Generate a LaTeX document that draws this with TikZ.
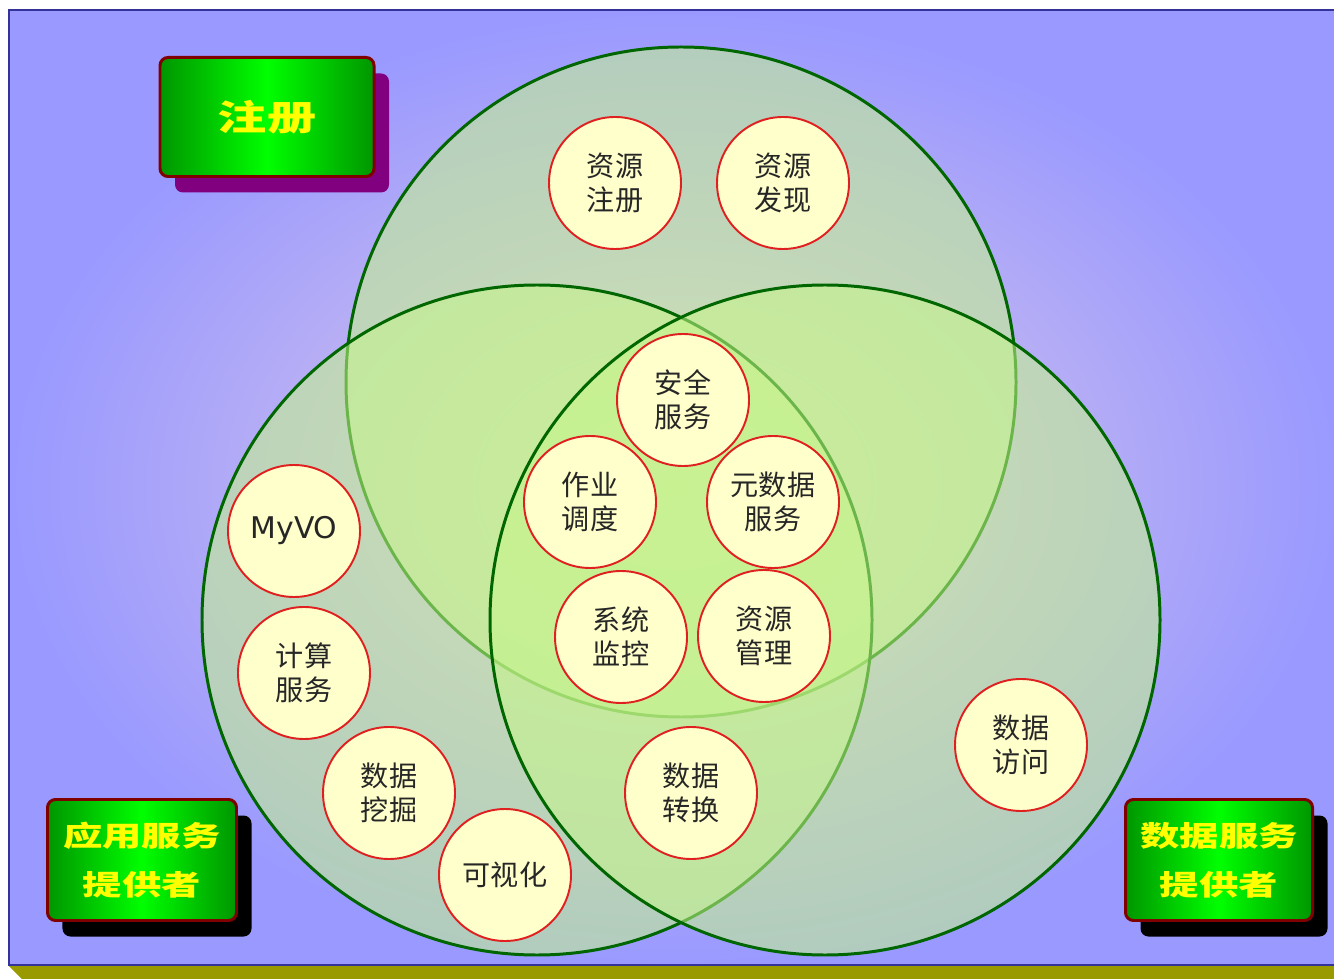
\documentclass[tikz,border=0pt]{standalone}
\usepackage{fontspec}
\usetikzlibrary{shadows}
\newfontfamily\cjk{Noto Sans CJK SC}
\newfontfamily\cjkbox{Noto Sans CJK SC}[FakeStretch=1.4]
\newfontfamily\latin{DejaVu Sans}
\definecolor{bgblue}{RGB}{153,153,255}
\definecolor{bgcenter}{RGB}{226,204,230}
\definecolor{bgline}{RGB}{51,51,153}
\definecolor{basebar}{RGB}{153,153,0}
\definecolor{setfill}{RGB}{198,246,138}
\definecolor{setline}{RGB}{0,102,0}
\definecolor{itemfill}{RGB}{255,255,204}
\definecolor{itemline}{RGB}{224,32,32}
\definecolor{boxline}{RGB}{128,0,0}
\definecolor{boxdark}{RGB}{0,150,0}
\definecolor{boxlight}{RGB}{0,255,0}
\definecolor{boxtext}{RGB}{255,255,0}
\definecolor{shadowpurple}{RGB}{128,0,128}
\tikzset{
	setcirc/.style={draw=setline, line width=1.7pt, fill=setfill, fill opacity=0.55},
	item/.style={circle, draw=itemline, line width=1.1pt, fill=itemfill,
		minimum size=26.4mm, inner sep=0pt, align=center, text=black!85,
		font=\cjk\fontsize{16}{19.5}\selectfont},
	rolebox/.style={rectangle, rounded corners=1.6mm, draw=boxline, line width=1.7pt,
		left color=boxdark, right color=boxdark, middle color=boxlight,
		align=center, text=boxtext, inner sep=0pt},
	roleshadow/.style={drop shadow={shadow xshift=3mm, shadow yshift=-3.2mm, fill=#1, opacity=1}}
}
\begin{document}
\begin{tikzpicture}[x=0.2mm, y=-0.2mm]
	\useasboundingbox (0,0) rectangle (1334,979);
	% background sheet
	\shade[inner color=bgcenter, outer color=bgblue] (9,10) rectangle (1340,965);
	\draw[bgline, line width=1pt] (1340,10)--(9,10)--(9,965)--(1340,965);
	\fill[basebar] (9,966)--(1340,966)--(1340,979)--(22,979)--cycle;

	% three sets
	\draw[setcirc] (681,382) circle [radius=335];
	\draw[setcirc] (537,620) circle [radius=335];
	\draw[setcirc] (825,620) circle [radius=335];

	% registry
	\node[item] (reg) at (615,183) {资源\\注册};
	\node[item] (disc) at (783,183) {资源\\发现};

	% shared core
	\node[item] (sec) at (683,400) {安全\\服务};
	\node[item] (job) at (590,502) {作业\\调度};
	\node[item] (meta) at (773,502) {元数据\\服务};
	\node[item] (mon) at (621,637) {系统\\监控};
	\node[item] (res) at (764,636) {资源\\管理};

	% application side
	\node[item, font=\latin\fontsize{17}{20}\selectfont] (myvo) at (294,531) {MyVO};
	\node[item] (comp) at (304,673) {计算\\服务};
	\node[item] (mine) at (389,793) {数据\\挖掘};
	\node[item] (vis) at (505,875) {可视化};
	\node[item] (conv) at (691,793) {数据\\转换};

	% data side
	\node[item] (acc) at (1021,745) {数据\\访问};

	% role boxes
	\node[rolebox, roleshadow=shadowpurple, minimum width=42.8mm, minimum height=23.8mm,
		font=\cjkbox\bfseries\fontsize{20}{24}\selectfont] (regbox) at (267,117) {注册};
	\node[rolebox, roleshadow=black, minimum width=37.8mm, minimum height=24.2mm,
		font=\cjkbox\bfseries\fontsize{16}{28}\selectfont] (appbox) at (142,860) {应用服务\\提供者};
	\node[rolebox, roleshadow=black, minimum width=37.4mm, minimum height=24.2mm,
		font=\cjkbox\bfseries\fontsize{16}{28}\selectfont] (databox) at (1219,860) {数据服务\\提供者};
\end{tikzpicture}
\end{document}
